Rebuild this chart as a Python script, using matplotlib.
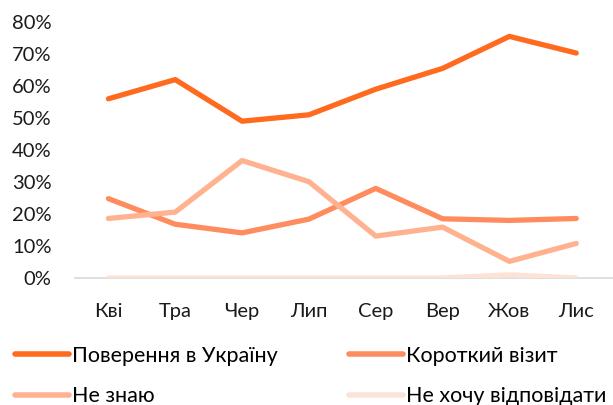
import matplotlib
matplotlib.use("Agg")
import matplotlib.pyplot as plt
from matplotlib.ticker import FuncFormatter

months = ["Кві", "Тра", "Чер", "Лип", "Сер", "Вер", "Жов", "Лис"]
return_ua = [56, 62, 49, 51, 59, 65.5, 75.5, 70.3]
short_visit = [24.8, 16.8, 14.1, 18.4, 28, 18.5, 18, 18.6]
dont_know = [18.6, 20.6, 36.7, 30.1, 13.1, 15.9, 5.2, 10.8]
no_answer = [0, 0, 0, 0, 0, 0, 1, 0]

labels = ["Поверення в Україну", "Короткий візит", "Не знаю", "Не хочу відповідати"]
colors = ["#FF6B1E", "#FF8C5E", "#FFB28F", "#FCE3D6"]
series = [return_ua, short_visit, dont_know, no_answer]

plt.rcParams['font.family'] = ['Lato', 'DejaVu Sans']
FS = 14.5
LFS = 15.5

fig = plt.figure(figsize=(6.13, 4.05), dpi=100)
ax = fig.add_axes([75/613, 1-278/405, 1-75/613, (278-22)/405])

x = list(range(len(months)))
handles = []
for s, lab, c in zip(series, labels, colors):
    h, = ax.plot(x, s, color=c, lw=3.8, label=lab, solid_capstyle='round', zorder=3)
    handles.append(h)

ax.set_xlim(-0.5, 7.55)
ax.set_ylim(0, 80)
ax.set_yticks(range(0, 81, 10))
ax.yaxis.set_major_formatter(FuncFormatter(lambda v, p: f"{int(v)}%"))
ax.set_xticks(x)
ax.set_xticklabels(months)
for sp in ["top", "right", "left"]:
    ax.spines[sp].set_visible(False)
ax.spines["bottom"].set_color("#D9D9D9")
ax.spines["bottom"].set_linewidth(1.2)
ax.tick_params(axis='both', length=0, labelsize=FS, colors="#1a1a1a")
ax.tick_params(axis='x', pad=18)
ax.tick_params(axis='y', pad=17)

order = [0, 2, 1, 3]
leg = fig.legend([handles[i] for i in order], [labels[i] for i in order],
                 loc='lower left', bbox_to_anchor=(0.0, -0.04), ncol=2, frameon=False,
                 fontsize=LFS, handlelength=2.5, handletextpad=0.15,
                 columnspacing=3.3, labelspacing=0.95, borderaxespad=0.3)
for line in leg.get_lines():
    line.set_linewidth(4)
    line.set_solid_capstyle('round')

fig.savefig("out.png", dpi=100)
